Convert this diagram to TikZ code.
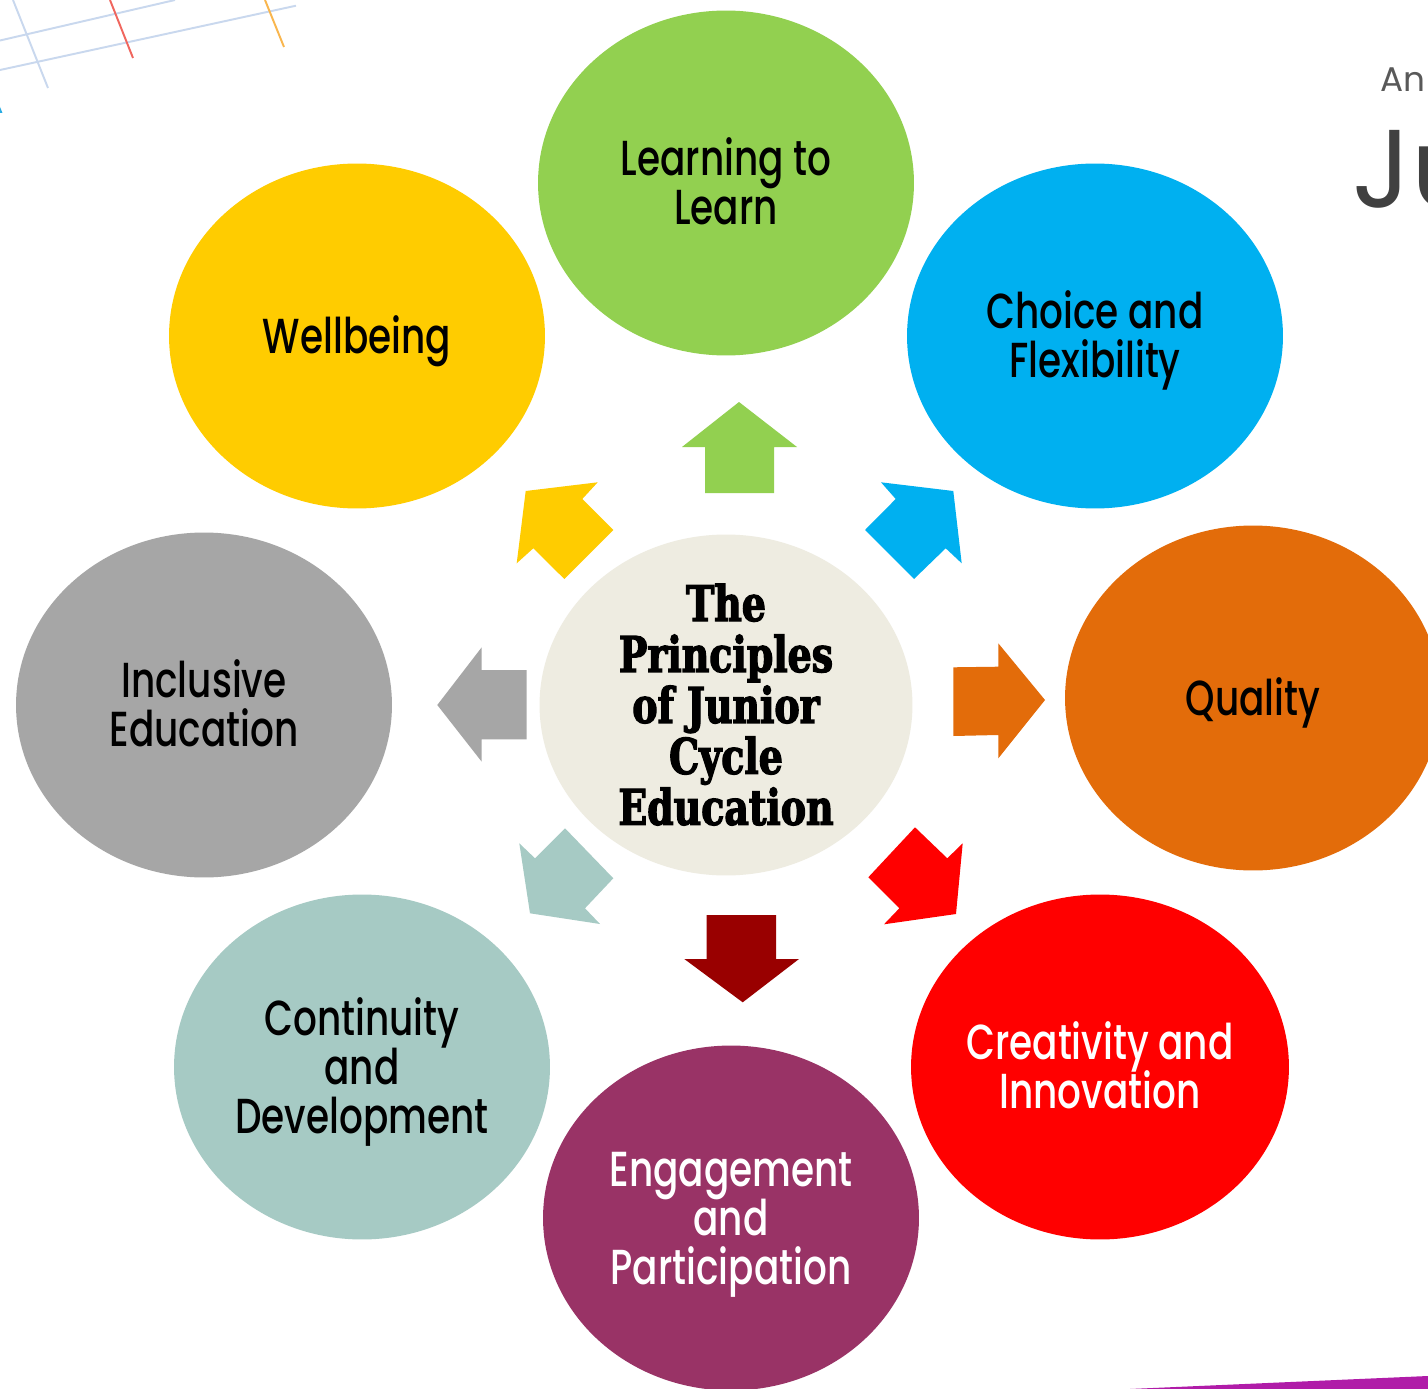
\documentclass[tikz,border=0pt]{standalone}
\usepackage{fontspec}
\usetikzlibrary{shapes.geometric}
\newfontfamily\lab{Poppins Medium}[FakeStretch=0.76]
\newfontfamily\ctrfont{DejaVu Serif}[FakeStretch=0.77,FakeBold=2.5]
\newfontfamily\brand{Poppins}
% first-line top strut and last-line bottom strut, symmetric about mid-cap height
\newcommand\ft{\rule{0pt}{27pt}}
\newcommand\lb{\rule[-7.4pt]{0pt}{7.4pt}}
\newcommand\hft{\rule{0pt}{27.4pt}}
\newcommand\hlb{\rule[-7pt]{0pt}{7pt}}
\newcommand\tightlines{\lineskiplimit=-50pt\relax}
\definecolor{cGreen}{HTML}{92D050}
\definecolor{cYellow}{HTML}{FFCC00}
\definecolor{cBlue}{HTML}{00B0F0}
\definecolor{cOrange}{HTML}{E36C0A}
\definecolor{cGray}{HTML}{A6A6A6}
\definecolor{cTeal}{HTML}{A6CAC4}
\definecolor{cPurple}{HTML}{993366}
\definecolor{cRed}{HTML}{FF0000}
\definecolor{cHub}{HTML}{EEECE1}
\definecolor{cDark}{HTML}{990000}
\definecolor{cLine}{HTML}{C9D8EE}
\definecolor{cLineRed}{HTML}{F0665E}
\definecolor{cLineOr}{HTML}{F9B64E}
\definecolor{cCyan}{HTML}{29ABE2}
\definecolor{cMag}{HTML}{B01CA8}
\definecolor{cTxtA}{HTML}{595959}
\definecolor{cTxtB}{HTML}{404040}
\begin{document}
\begin{tikzpicture}[x=0.02cm,y=-0.02cm,
  blob/.style={ellipse, inner sep=0pt, minimum width=7.52cm, minimum height=6.9cm,
    align=center, font=\lab\fontsize{28}{27.8}\selectfont\tightlines},
  hub/.style={ellipse, inner xsep=0pt, inner ysep=-10pt, minimum width=7.46cm, minimum height=6.82cm,
    fill=cHub, align=center, font=\ctrfont\bfseries\fontsize{28}{29}\selectfont\tightlines},
  deco/.style={line width=1.1pt}]
\useasboundingbox (0,0) rectangle (1428,1389);
\clip (0,0) rectangle (1428,1389);
\fill[white] (0,0) rectangle (1428,1389);
% background decoration
\draw[deco, cLine] (0,40.5) -- (175,0);
\draw[deco, cLine] (0,70) -- (296,5.7);
\draw[deco, cLine] (13,0) -- (48,88);
\draw[deco, cLineRed] (110,0) -- (133,58);
\draw[deco, cLineOr] (265,0) -- (284,47);
\fill[cCyan] (0,107) -- (2.5,113) -- (0,113) -- cycle;
\node[anchor=base west, inner sep=0pt, text=cTxtA, font=\brand\fontsize{19.5}{20}\selectfont] (an) at (1380,92) {An};
\node[anchor=base west, inner sep=0pt, text=cTxtB, font=\brand\fontsize{63}{63}\selectfont] (ju) at (1352,208) {Ju};
\fill[cMag] (1130,1389) -- (1428,1376) -- (1428,1389) -- cycle;
% ellipses
\node[blob, fill=cGreen] (learn) at (726,183) {\ft Learning to\\Learn\lb};
\node[blob, fill=cYellow] (well) at (357,336) {\ft Wellbeing\lb};
\node[blob, fill=cBlue] (choice) at (1095,336) {\ft Choice and\\Flexibility\lb};
\node[blob, fill=cOrange] (quality) at (1253,698) {\ft Quality\lb};
\node[blob, fill=cGray] (incl) at (204,705) {\ft Inclusive\\Education\lb};
\node[blob, fill=cTeal] (cont) at (362,1067) {\ft Continuity\\and\\Development\lb};
\node[blob, fill=cPurple, text=white] (eng) at (731,1218) {\ft Engagement\\and\\Participation\lb};
\node[blob, fill=cRed, text=white] (creat) at (1100,1067) {\ft Creativity and\\Innovation\lb};
\node[hub] (hub) at (726,705) {\hft The\\Principles\\of Junior\\Cycle\\Education\hlb};
% block arrows
\fill[cGreen] (739,402) -- (797,447) -- (774,447) -- (774,493) -- (705,493) -- (705,447) -- (682,447) -- cycle;
\fill[cYellow] (525.7,491) -- (597.7,482.3) -- (582.3,499) -- (613.3,530) -- (564.3,579) -- (533.3,548.3) -- (516.7,563.3) -- cycle;
\fill[cBlue] (953.3,491) -- (881,482.3) -- (895.7,499) -- (865,530) -- (914,579) -- (945.7,548.3) -- (961.7,563.3) -- cycle;
\fill[cGray] (437.3,705) -- (481.7,647.3) -- (481.7,670) -- (526.7,670) -- (526.7,739.3) -- (481.7,739.3) -- (481.7,761.7) -- cycle;
\fill[cOrange] (1045,700) -- (998.3,643.3) -- (998.3,666.7) -- (953.3,667.3) -- (953.3,736) -- (998.3,735) -- (998.3,758.3) -- cycle;
\fill[cTeal] (530,913.3) -- (519.3,843.3) -- (535,858.3) -- (565,828.3) -- (613.3,878.3) -- (585,908.3) -- (600,924) -- cycle;
\fill[cDark] (742.7,1002.3) -- (684.3,959) -- (706.7,959) -- (706.7,915) -- (776,915) -- (776,959) -- (799,959) -- cycle;
\fill[cRed] (956,914) -- (962.7,843.3) -- (947.3,858.3) -- (915,827.3) -- (868.3,877.3) -- (899.3,908.3) -- (884,924.3) -- cycle;
\end{tikzpicture}
\end{document}
